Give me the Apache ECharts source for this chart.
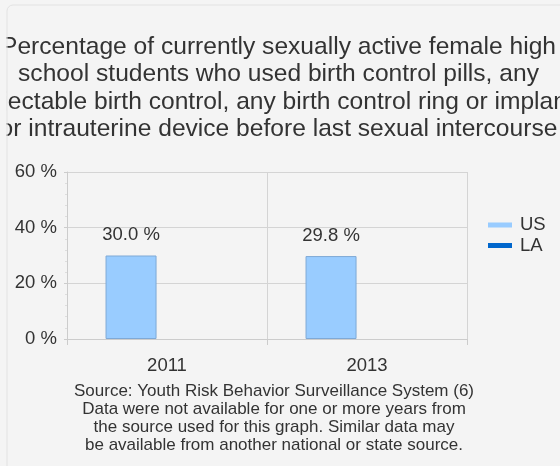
<!DOCTYPE html>
<html>
<head>
<meta charset="utf-8">
<script src="https://cdn.jsdelivr.net/npm/echarts@6/dist/echarts.min.js"></script>
<style>
  html, body { margin: 0; padding: 0; background: #f4f4f4; }
  #chart { width: 560px; height: 466px; }
</style>
</head>
<body>
<div id="chart"></div>
<script>
// Years and survey values (percent)
const years = ['2011', '2013'];
const usValues = [30.0, 29.8];
const laValues = [null, null];
const yTicks = [0, 20, 40, 60];

const titleText = 'Percentage of currently sexually active female high\n' +
  'school students who used birth control pills, any\n' +
  'injectable birth control, any birth control ring or implant\n' +
  'or intrauterine device before last sexual intercourse';
const sourceText = 'Source: Youth Risk Behavior Surveillance System (6)\n' +
  'Data were not available for one or more years from\n' +
  'the source used for this graph. Similar data may\n' +
  'be available from another national or state source.';

const font = '"Liberation Sans", Arial, sans-serif';
const bg = '#f4f4f4';
const chart = echarts.init(document.getElementById('chart'), null, { renderer: 'canvas' });

chart.setOption({
  backgroundColor: bg,
  animation: false,
  textStyle: { fontFamily: font },
  graphic: [{
    // chart title, centred over the panel
    type: 'text',
    z: 50,
    x: 278.5,
    y: 33,
    style: {
      text: titleText,
      fontFamily: font,
      fontSize: 24.6,
      lineHeight: 27.5,
      fill: '#333',
      align: 'center',
      verticalAlign: 'top'
    },
    silent: true
  }, {
    // source note under the axis
    type: 'text',
    z: 50,
    x: 274,
    y: 382,
    style: {
      text: sourceText,
      fontFamily: font,
      fontSize: 17,
      lineHeight: 18.2,
      fill: '#333',
      align: 'center',
      verticalAlign: 'top'
    },
    silent: true
  }, {
    // panel edge: content left of it is hidden
    type: 'rect',
    z: 100,
    shape: { x: 0, y: 0, width: 6.5, height: 466 },
    style: { fill: bg, stroke: null },
    silent: true
  }, {
    type: 'rect',
    z: 101,
    shape: { x: 7, y: 5, width: 600, height: 500, r: 6 },
    style: { fill: 'none', stroke: '#e2e2e2', lineWidth: 1 },
    silent: true
  }],
  legend: {
    orient: 'vertical',
    left: 483,
    top: 210,
    itemWidth: 24,
    itemHeight: 5,
    itemGap: 0.5,
    icon: 'rect',
    textStyle: { fontFamily: font, fontSize: 18.5, lineHeight: 20, color: '#333', padding: [0, 0, 0, 3] },
    data: [{ name: 'US', itemStyle: { borderWidth: 0 } }, { name: 'LA', itemStyle: { borderWidth: 0 } }]
  },
  grid: { left: 67, right: 93, top: 172, bottom: 127, containLabel: false },
  xAxis: {
    type: 'category',
    data: years,
    boundaryGap: true,
    axisLine: { show: true, lineStyle: { color: '#cccccc', width: 1 } },
    axisTick: { show: true, length: 6, lineStyle: { color: '#cccccc' } },
    splitLine: { show: true, lineStyle: { color: '#d4d4d4', width: 1 } },
    axisLabel: { fontFamily: font, fontSize: 18.5, color: '#333', margin: 17 }
  },
  yAxis: {
    type: 'value',
    min: yTicks[0],
    max: yTicks[yTicks.length - 1],
    interval: 20,
    axisLine: { show: true, lineStyle: { color: '#cccccc', width: 1 } },
    axisTick: { show: true, length: 3, lineStyle: { color: '#cccccc' } },
    minorTick: { show: true, splitNumber: 5, length: 2, lineStyle: { color: '#dddddd' } },
    splitLine: { show: true, lineStyle: { color: '#d4d4d4', width: 1 } },
    axisLabel: { fontFamily: font, fontSize: 18.5, color: '#333', margin: 10, formatter: v => v + ' %' }
  },
  series: [{
    name: 'US',
    type: 'bar',
    data: usValues,
    barWidth: 51,
    barGap: '41%',
    itemStyle: { color: '#99ccff', borderColor: '#7fa9d6', borderWidth: 1 },
    label: {
      show: true,
      position: 'top',
      distance: 11,
      fontFamily: font,
      fontSize: 18.5,
      color: '#333',
      formatter: p => p.value.toFixed(1) + ' %'
    }
  }, {
    name: 'LA',
    type: 'bar',
    data: laValues,
    barWidth: 51,
    itemStyle: { color: '#0066cc' }
  }]
});
</script>
</body>
</html>
